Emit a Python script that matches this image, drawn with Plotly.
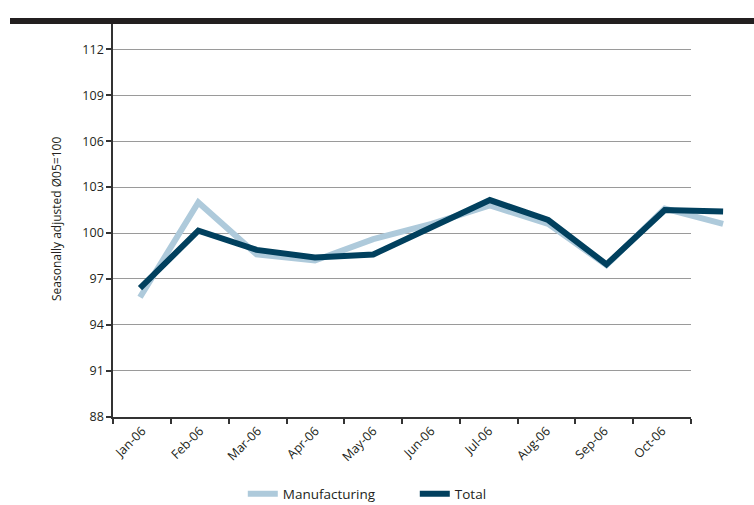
import plotly.graph_objects as go

months = ["Jan-06", "Feb-06", "Mar-06", "Apr-06", "May-06", "Jun-06",
          "Jul-06", "Aug-06", "Sep-06", "Oct-06", "Nov-06"]
tick_labels = months[:10]
manufacturing = [95.8, 102.0, 98.6, 98.2, 99.6, 100.6, 101.8, 100.6, 97.9, 101.6, 100.6]
total = [96.4, 100.15, 98.9, 98.4, 98.6, 100.4, 102.15, 100.85, 97.95, 101.5, 101.4]
y_ticks = [88, 91, 94, 97, 100, 103, 106, 109, 112]

W, H = 754, 505
FONT = "Open Sans"
TXT = "#231f20"

x_left = 113.3 / W
x_right_grid = 691 / W
y_bottom = 1 - 416.7 / H
y_top = 1 - 21 / H
y_range = [88, 113.85]

fig = go.Figure()

# dummy trace to establish the visible category axis (gridded frame)
fig.add_trace(go.Scatter(x=tick_labels, y=[None] * len(tick_labels),
                         xaxis="x", yaxis="y", showlegend=False,
                         hoverinfo="skip", mode="lines"))

fig.add_trace(go.Scatter(x=months, y=manufacturing, name="Manufacturing",
                         mode="lines", line=dict(color="#aecadb", width=6),
                         xaxis="x2", yaxis="y2"))
fig.add_trace(go.Scatter(x=months, y=total, name="Total",
                         mode="lines", line=dict(color="#01405e", width=6),
                         xaxis="x2", yaxis="y2"))

fig.update_layout(
    width=W, height=H,
    margin=dict(l=0, r=0, t=0, b=0, autoexpand=False),
    paper_bgcolor="white",
    plot_bgcolor="rgba(0,0,0,0)",
    font=dict(family=FONT, size=12, color=TXT),
    xaxis=dict(
        domain=[x_left, x_right_grid], anchor="y",
        type="category", categoryorder="array", categoryarray=tick_labels,
        range=[-0.5, 9.5], tickson="boundaries",
        ticks="outside", ticklen=5, tickwidth=1.5, tickcolor="#333",
        showline=True, linecolor="#333", linewidth=2,
        showgrid=False, zeroline=False, tickangle=-45,
        tickfont=dict(size=12.5, color=TXT),
    ),
    yaxis=dict(
        domain=[y_bottom, y_top], anchor="x",
        range=y_range, tickvals=y_ticks,
        ticks="outside", ticklen=5, tickwidth=1.5, tickcolor="#333",
        showline=True, linecolor="#333", linewidth=2,
        showgrid=True, gridcolor="#9a9a9a", gridwidth=1,
        zeroline=False, tickfont=dict(size=12.5, color=TXT),
        title=dict(text="Seasonally adjusted Ø05=100",
                   font=dict(size=12, color=TXT), standoff=18),
    ),
    xaxis2=dict(
        domain=[x_left, 1], anchor="y2",
        type="category", categoryorder="array", categoryarray=months,
        range=[-0.458, 10.53], visible=False,
    ),
    yaxis2=dict(
        domain=[y_bottom, y_top], anchor="x2",
        range=y_range, visible=False,
    ),
    legend=dict(
        orientation="h", x=0.322, xanchor="left", y=0.022, yanchor="middle",
        font=dict(size=13.5, color=TXT), entrywidth=127, entrywidthmode="pixels",
        bgcolor="rgba(0,0,0,0)",
    ),
    shapes=[dict(type="line", xref="paper", yref="paper",
                 x0=10 / W, x1=1, y0=y_top, y1=y_top,
                 line=dict(color="#231f20", width=6))],
)

fig.write_html("out.html")
